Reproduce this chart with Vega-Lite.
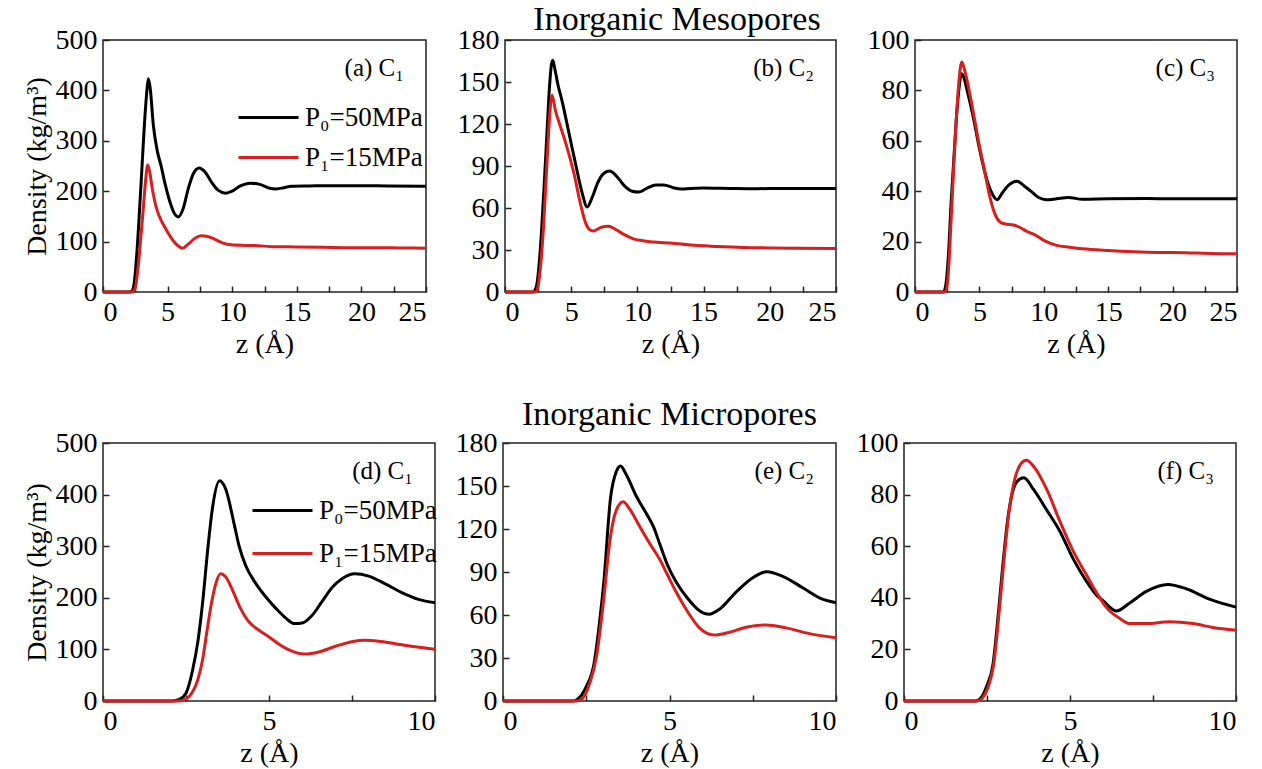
{
"$schema": "https://vega.github.io/schema/vega-lite/v6.json",
"background": "white",
"padding": {"left": 22, "top": 3, "right": 5, "bottom": 5},
"config": {
  "font": "Liberation Serif",
  "view": {"stroke": "#222", "strokeWidth": 1.5},
  "axis": {"grid": false, "domain": false, "tickSize": -6, "tickColor": "#222", "tickWidth": 1.5, "labelFontSize": 28, "labelColor": "black", "labelFont": "Liberation Serif", "titleFontSize": 28, "titleFontWeight": "normal", "titleColor": "black", "titleFont": "Liberation Serif", "labelPadding": 12},
  "title": {"font": "Liberation Serif", "fontWeight": "normal", "color": "black"},
  "legend": {"labelFont": "Liberation Serif"},
  "line": {"strokeWidth": 3, "interpolate": "monotone"}
},
"datasets": {
"a": [
{"s":"P₀=50MPa","z":0,"d":0},{"s":"P₀=50MPa","z":2.0,"d":0},{"s":"P₀=50MPa","z":2.2,"d":1},{"s":"P₀=50MPa","z":2.4,"d":15},{"s":"P₀=50MPa","z":2.6,"d":70},{"s":"P₀=50MPa","z":2.8,"d":150},{"s":"P₀=50MPa","z":3.0,"d":240},{"s":"P₀=50MPa","z":3.2,"d":330},{"s":"P₀=50MPa","z":3.4,"d":400},{"s":"P₀=50MPa","z":3.51,"d":423},{"s":"P₀=50MPa","z":3.65,"d":405},{"s":"P₀=50MPa","z":3.9,"d":330},{"s":"P₀=50MPa","z":4.2,"d":280},{"s":"P₀=50MPa","z":4.5,"d":250},{"s":"P₀=50MPa","z":4.8,"d":215},{"s":"P₀=50MPa","z":5.13,"d":183},{"s":"P₀=50MPa","z":5.5,"d":157},{"s":"P₀=50MPa","z":5.83,"d":149},{"s":"P₀=50MPa","z":6.2,"d":165},{"s":"P₀=50MPa","z":6.6,"d":205},{"s":"P₀=50MPa","z":7.0,"d":235},{"s":"P₀=50MPa","z":7.45,"d":246},{"s":"P₀=50MPa","z":7.9,"d":238},{"s":"P₀=50MPa","z":8.4,"d":218},{"s":"P₀=50MPa","z":8.9,"d":202},{"s":"P₀=50MPa","z":9.5,"d":196},{"s":"P₀=50MPa","z":10.0,"d":200},{"s":"P₀=50MPa","z":10.6,"d":210},{"s":"P₀=50MPa","z":11.4,"d":216},{"s":"P₀=50MPa","z":12.2,"d":213},{"s":"P₀=50MPa","z":12.9,"d":206},{"s":"P₀=50MPa","z":13.4,"d":204.5},{"s":"P₀=50MPa","z":14.0,"d":207},{"s":"P₀=50MPa","z":14.6,"d":210},{"s":"P₀=50MPa","z":16,"d":210.5},{"s":"P₀=50MPa","z":18,"d":211},{"s":"P₀=50MPa","z":20,"d":211},{"s":"P₀=50MPa","z":22,"d":210.5},{"s":"P₀=50MPa","z":25,"d":210},
{"s":"P₁=15MPa","z":0,"d":0},{"s":"P₁=15MPa","z":2.2,"d":0},{"s":"P₁=15MPa","z":2.35,"d":1},{"s":"P₁=15MPa","z":2.5,"d":8},{"s":"P₁=15MPa","z":2.7,"d":45},{"s":"P₁=15MPa","z":2.9,"d":100},{"s":"P₁=15MPa","z":3.1,"d":160},{"s":"P₁=15MPa","z":3.3,"d":222},{"s":"P₁=15MPa","z":3.46,"d":252},{"s":"P₁=15MPa","z":3.6,"d":240},{"s":"P₁=15MPa","z":3.85,"d":200},{"s":"P₁=15MPa","z":4.1,"d":170},{"s":"P₁=15MPa","z":4.36,"d":150},{"s":"P₁=15MPa","z":4.8,"d":128},{"s":"P₁=15MPa","z":5.26,"d":108},{"s":"P₁=15MPa","z":5.7,"d":94},{"s":"P₁=15MPa","z":6.17,"d":87},{"s":"P₁=15MPa","z":6.6,"d":95},{"s":"P₁=15MPa","z":7.1,"d":106},{"s":"P₁=15MPa","z":7.58,"d":111.5},{"s":"P₁=15MPa","z":8.1,"d":110},{"s":"P₁=15MPa","z":8.7,"d":104},{"s":"P₁=15MPa","z":9.3,"d":97},{"s":"P₁=15MPa","z":9.9,"d":93.6},{"s":"P₁=15MPa","z":11,"d":92.5},{"s":"P₁=15MPa","z":12,"d":92},{"s":"P₁=15MPa","z":13,"d":90},{"s":"P₁=15MPa","z":15,"d":89.5},{"s":"P₁=15MPa","z":17,"d":89},{"s":"P₁=15MPa","z":19,"d":88},{"s":"P₁=15MPa","z":21,"d":88},{"s":"P₁=15MPa","z":23,"d":87.5},{"s":"P₁=15MPa","z":25,"d":87}
],
"b": [
{"s":"P₀=50MPa","z":0,"d":0},{"s":"P₀=50MPa","z":2.1,"d":0},{"s":"P₀=50MPa","z":2.25,"d":1},{"s":"P₀=50MPa","z":2.45,"d":8},{"s":"P₀=50MPa","z":2.7,"d":35},{"s":"P₀=50MPa","z":2.95,"d":75},{"s":"P₀=50MPa","z":3.15,"d":110},{"s":"P₀=50MPa","z":3.35,"d":145},{"s":"P₀=50MPa","z":3.5,"d":162},{"s":"P₀=50MPa","z":3.61,"d":165.5},{"s":"P₀=50MPa","z":3.75,"d":160},{"s":"P₀=50MPa","z":4.0,"d":148},{"s":"P₀=50MPa","z":4.32,"d":136},{"s":"P₀=50MPa","z":4.82,"d":114},{"s":"P₀=50MPa","z":5.32,"d":92},{"s":"P₀=50MPa","z":5.82,"d":71},{"s":"P₀=50MPa","z":6.2,"d":60.7},{"s":"P₀=50MPa","z":6.6,"d":68},{"s":"P₀=50MPa","z":7.0,"d":78},{"s":"P₀=50MPa","z":7.5,"d":85},{"s":"P₀=50MPa","z":7.9,"d":86.4},{"s":"P₀=50MPa","z":8.4,"d":83},{"s":"P₀=50MPa","z":9.0,"d":76},{"s":"P₀=50MPa","z":9.6,"d":72},{"s":"P₀=50MPa","z":10.1,"d":71.4},{"s":"P₀=50MPa","z":10.7,"d":74},{"s":"P₀=50MPa","z":11.4,"d":76.5},{"s":"P₀=50MPa","z":12,"d":76.5},{"s":"P₀=50MPa","z":12.7,"d":74.5},{"s":"P₀=50MPa","z":13.3,"d":73.5},{"s":"P₀=50MPa","z":14,"d":74},{"s":"P₀=50MPa","z":15,"d":74.3},{"s":"P₀=50MPa","z":17,"d":74},{"s":"P₀=50MPa","z":19,"d":73.8},{"s":"P₀=50MPa","z":21,"d":74},{"s":"P₀=50MPa","z":23,"d":74},{"s":"P₀=50MPa","z":25,"d":74},
{"s":"P₁=15MPa","z":0,"d":0},{"s":"P₁=15MPa","z":2.3,"d":0},{"s":"P₁=15MPa","z":2.45,"d":2},{"s":"P₁=15MPa","z":2.65,"d":15},{"s":"P₁=15MPa","z":2.9,"d":45},{"s":"P₁=15MPa","z":3.1,"d":80},{"s":"P₁=15MPa","z":3.3,"d":115},{"s":"P₁=15MPa","z":3.45,"d":135},{"s":"P₁=15MPa","z":3.56,"d":140.5},{"s":"P₁=15MPa","z":3.8,"d":130},{"s":"P₁=15MPa","z":4.19,"d":118},{"s":"P₁=15MPa","z":4.6,"d":106},{"s":"P₁=15MPa","z":5.2,"d":85},{"s":"P₁=15MPa","z":5.7,"d":63},{"s":"P₁=15MPa","z":6.1,"d":49},{"s":"P₁=15MPa","z":6.4,"d":44.5},{"s":"P₁=15MPa","z":6.7,"d":43.6},{"s":"P₁=15MPa","z":7.1,"d":45.5},{"s":"P₁=15MPa","z":7.5,"d":46.8},{"s":"P₁=15MPa","z":7.83,"d":47},{"s":"P₁=15MPa","z":8.3,"d":45},{"s":"P₁=15MPa","z":8.9,"d":41.5},{"s":"P₁=15MPa","z":9.7,"d":38},{"s":"P₁=15MPa","z":10.5,"d":36.5},{"s":"P₁=15MPa","z":11.5,"d":35.5},{"s":"P₁=15MPa","z":12.5,"d":35},{"s":"P₁=15MPa","z":14,"d":33.5},{"s":"P₁=15MPa","z":16,"d":32.5},{"s":"P₁=15MPa","z":18,"d":31.8},{"s":"P₁=15MPa","z":20,"d":31.5},{"s":"P₁=15MPa","z":22,"d":31.2},{"s":"P₁=15MPa","z":25,"d":31}
],
"c": [
{"s":"P₀=50MPa","z":0,"d":0},{"s":"P₀=50MPa","z":2.2,"d":0},{"s":"P₀=50MPa","z":2.4,"d":3},{"s":"P₀=50MPa","z":2.6,"d":15},{"s":"P₀=50MPa","z":2.8,"d":35},{"s":"P₀=50MPa","z":3.03,"d":54},{"s":"P₀=50MPa","z":3.2,"d":68},{"s":"P₀=50MPa","z":3.4,"d":80},{"s":"P₀=50MPa","z":3.6,"d":86.6},{"s":"P₀=50MPa","z":3.8,"d":85},{"s":"P₀=50MPa","z":4.0,"d":81},{"s":"P₀=50MPa","z":4.5,"d":70},{"s":"P₀=50MPa","z":5.0,"d":57},{"s":"P₀=50MPa","z":5.5,"d":46},{"s":"P₀=50MPa","z":5.9,"d":40},{"s":"P₀=50MPa","z":6.38,"d":36.6},{"s":"P₀=50MPa","z":6.8,"d":39.5},{"s":"P₀=50MPa","z":7.3,"d":42.5},{"s":"P₀=50MPa","z":7.92,"d":43.9},{"s":"P₀=50MPa","z":8.5,"d":42},{"s":"P₀=50MPa","z":9.0,"d":40},{"s":"P₀=50MPa","z":9.6,"d":37.5},{"s":"P₀=50MPa","z":10.2,"d":36.6},{"s":"P₀=50MPa","z":11,"d":37},{"s":"P₀=50MPa","z":11.9,"d":37.5},{"s":"P₀=50MPa","z":13,"d":36.8},{"s":"P₀=50MPa","z":15,"d":37},{"s":"P₀=50MPa","z":18,"d":37.1},{"s":"P₀=50MPa","z":20,"d":37},{"s":"P₀=50MPa","z":25,"d":37},
{"s":"P₁=15MPa","z":0,"d":0},{"s":"P₁=15MPa","z":2.35,"d":0},{"s":"P₁=15MPa","z":2.55,"d":5},{"s":"P₁=15MPa","z":2.8,"d":28},{"s":"P₁=15MPa","z":3.03,"d":52},{"s":"P₁=15MPa","z":3.2,"d":68},{"s":"P₁=15MPa","z":3.4,"d":83},{"s":"P₁=15MPa","z":3.63,"d":91.3},{"s":"P₁=15MPa","z":3.8,"d":89},{"s":"P₁=15MPa","z":4.0,"d":85},{"s":"P₁=15MPa","z":4.5,"d":72},{"s":"P₁=15MPa","z":5.0,"d":58},{"s":"P₁=15MPa","z":5.35,"d":49.6},{"s":"P₁=15MPa","z":5.8,"d":38},{"s":"P₁=15MPa","z":6.2,"d":31},{"s":"P₁=15MPa","z":6.6,"d":27.8},{"s":"P₁=15MPa","z":7.0,"d":27},{"s":"P₁=15MPa","z":7.65,"d":26.6},{"s":"P₁=15MPa","z":8.2,"d":25.5},{"s":"P₁=15MPa","z":8.7,"d":24},{"s":"P₁=15MPa","z":9.2,"d":23},{"s":"P₁=15MPa","z":10,"d":20.5},{"s":"P₁=15MPa","z":11,"d":18.5},{"s":"P₁=15MPa","z":12,"d":17.8},{"s":"P₁=15MPa","z":13,"d":17.2},{"s":"P₁=15MPa","z":15,"d":16.5},{"s":"P₁=15MPa","z":17,"d":16},{"s":"P₁=15MPa","z":19,"d":15.7},{"s":"P₁=15MPa","z":21,"d":15.6},{"s":"P₁=15MPa","z":23,"d":15.3},{"s":"P₁=15MPa","z":25,"d":15.2}
],
"d": [
{"s":"P₀=50MPa","z":0,"d":0},{"s":"P₀=50MPa","z":2.1,"d":0},{"s":"P₀=50MPa","z":2.3,"d":3},{"s":"P₀=50MPa","z":2.5,"d":15},{"s":"P₀=50MPa","z":2.7,"d":60},{"s":"P₀=50MPa","z":2.86,"d":116},{"s":"P₀=50MPa","z":3.0,"d":190},{"s":"P₀=50MPa","z":3.16,"d":297},{"s":"P₀=50MPa","z":3.3,"d":375},{"s":"P₀=50MPa","z":3.51,"d":426.6},{"s":"P₀=50MPa","z":3.7,"d":410},{"s":"P₀=50MPa","z":3.96,"d":340},{"s":"P₀=50MPa","z":4.1,"d":300},{"s":"P₀=50MPa","z":4.3,"d":262},{"s":"P₀=50MPa","z":4.6,"d":228},{"s":"P₀=50MPa","z":4.9,"d":202},{"s":"P₀=50MPa","z":5.2,"d":180},{"s":"P₀=50MPa","z":5.5,"d":161},{"s":"P₀=50MPa","z":5.77,"d":150},{"s":"P₀=50MPa","z":6.0,"d":151},{"s":"P₀=50MPa","z":6.3,"d":166},{"s":"P₀=50MPa","z":6.6,"d":193},{"s":"P₀=50MPa","z":6.9,"d":220},{"s":"P₀=50MPa","z":7.2,"d":237},{"s":"P₀=50MPa","z":7.58,"d":246.5},{"s":"P₀=50MPa","z":8.0,"d":242},{"s":"P₀=50MPa","z":8.5,"d":227},{"s":"P₀=50MPa","z":9.0,"d":210},{"s":"P₀=50MPa","z":9.5,"d":197},{"s":"P₀=50MPa","z":10,"d":190.5},
{"s":"P₁=15MPa","z":0,"d":0},{"s":"P₁=15MPa","z":2.3,"d":0},{"s":"P₁=15MPa","z":2.5,"d":4},{"s":"P₁=15MPa","z":2.7,"d":18},{"s":"P₁=15MPa","z":2.85,"d":40},{"s":"P₁=15MPa","z":3.0,"d":80},{"s":"P₁=15MPa","z":3.13,"d":135},{"s":"P₁=15MPa","z":3.26,"d":187},{"s":"P₁=15MPa","z":3.4,"d":228},{"s":"P₁=15MPa","z":3.54,"d":246.5},{"s":"P₁=15MPa","z":3.7,"d":240},{"s":"P₁=15MPa","z":3.9,"d":215},{"s":"P₁=15MPa","z":4.1,"d":185},{"s":"P₁=15MPa","z":4.4,"d":153},{"s":"P₁=15MPa","z":4.7,"d":137},{"s":"P₁=15MPa","z":5.0,"d":124},{"s":"P₁=15MPa","z":5.3,"d":110},{"s":"P₁=15MPa","z":5.6,"d":99},{"s":"P₁=15MPa","z":6.07,"d":91},{"s":"P₁=15MPa","z":6.5,"d":95},{"s":"P₁=15MPa","z":7.0,"d":106},{"s":"P₁=15MPa","z":7.5,"d":115},{"s":"P₁=15MPa","z":7.88,"d":117.8},{"s":"P₁=15MPa","z":8.3,"d":116},{"s":"P₁=15MPa","z":8.8,"d":111},{"s":"P₁=15MPa","z":9.4,"d":105},{"s":"P₁=15MPa","z":10,"d":100.4}
],
"e": [
{"s":"P₀=50MPa","z":0,"d":0},{"s":"P₀=50MPa","z":2.1,"d":0},{"s":"P₀=50MPa","z":2.23,"d":1},{"s":"P₀=50MPa","z":2.5,"d":10},{"s":"P₀=50MPa","z":2.73,"d":25.6},{"s":"P₀=50MPa","z":2.9,"d":55},{"s":"P₀=50MPa","z":3.03,"d":83.7},{"s":"P₀=50MPa","z":3.23,"d":141.9},{"s":"P₀=50MPa","z":3.4,"d":160},{"s":"P₀=50MPa","z":3.53,"d":164},{"s":"P₀=50MPa","z":3.7,"d":158},{"s":"P₀=50MPa","z":4.0,"d":143},{"s":"P₀=50MPa","z":4.3,"d":131},{"s":"P₀=50MPa","z":4.53,"d":121},{"s":"P₀=50MPa","z":4.7,"d":110},{"s":"P₀=50MPa","z":4.93,"d":95.4},{"s":"P₀=50MPa","z":5.2,"d":83},{"s":"P₀=50MPa","z":5.53,"d":72},{"s":"P₀=50MPa","z":5.9,"d":63},{"s":"P₀=50MPa","z":6.19,"d":60.5},{"s":"P₀=50MPa","z":6.5,"d":64},{"s":"P₀=50MPa","z":7.0,"d":76},{"s":"P₀=50MPa","z":7.5,"d":86},{"s":"P₀=50MPa","z":7.92,"d":90.2},{"s":"P₀=50MPa","z":8.4,"d":87},{"s":"P₀=50MPa","z":9.0,"d":79},{"s":"P₀=50MPa","z":9.5,"d":72},{"s":"P₀=50MPa","z":10,"d":68.6},
{"s":"P₁=15MPa","z":0,"d":0},{"s":"P₁=15MPa","z":2.2,"d":0},{"s":"P₁=15MPa","z":2.35,"d":1},{"s":"P₁=15MPa","z":2.6,"d":12},{"s":"P₁=15MPa","z":2.8,"d":30},{"s":"P₁=15MPa","z":3.03,"d":72},{"s":"P₁=15MPa","z":3.2,"d":110},{"s":"P₁=15MPa","z":3.4,"d":133},{"s":"P₁=15MPa","z":3.61,"d":139},{"s":"P₁=15MPa","z":3.8,"d":134},{"s":"P₁=15MPa","z":4.1,"d":122},{"s":"P₁=15MPa","z":4.43,"d":109},{"s":"P₁=15MPa","z":4.7,"d":99},{"s":"P₁=15MPa","z":4.93,"d":88.4},{"s":"P₁=15MPa","z":5.2,"d":76},{"s":"P₁=15MPa","z":5.53,"d":62.8},{"s":"P₁=15MPa","z":5.9,"d":51},{"s":"P₁=15MPa","z":6.34,"d":46},{"s":"P₁=15MPa","z":6.8,"d":48},{"s":"P₁=15MPa","z":7.3,"d":51.5},{"s":"P₁=15MPa","z":7.89,"d":53},{"s":"P₁=15MPa","z":8.5,"d":51},{"s":"P₁=15MPa","z":9.2,"d":47},{"s":"P₁=15MPa","z":10,"d":44.2}
],
"f": [
{"s":"P₀=50MPa","z":0,"d":0},{"s":"P₀=50MPa","z":2.15,"d":0},{"s":"P₀=50MPa","z":2.3,"d":1},{"s":"P₀=50MPa","z":2.5,"d":6},{"s":"P₀=50MPa","z":2.68,"d":14.2},{"s":"P₀=50MPa","z":2.85,"d":35},{"s":"P₀=50MPa","z":2.98,"d":53},{"s":"P₀=50MPa","z":3.1,"d":68},{"s":"P₀=50MPa","z":3.23,"d":78.8},{"s":"P₀=50MPa","z":3.4,"d":85},{"s":"P₀=50MPa","z":3.61,"d":86.5},{"s":"P₀=50MPa","z":3.9,"d":82},{"s":"P₀=50MPa","z":4.3,"d":74},{"s":"P₀=50MPa","z":4.69,"d":65.9},{"s":"P₀=50MPa","z":5.1,"d":55},{"s":"P₀=50MPa","z":5.49,"d":46.5},{"s":"P₀=50MPa","z":5.8,"d":41},{"s":"P₀=50MPa","z":6.0,"d":38.8},{"s":"P₀=50MPa","z":6.4,"d":34.9},{"s":"P₀=50MPa","z":6.8,"d":38},{"s":"P₀=50MPa","z":7.3,"d":42.5},{"s":"P₀=50MPa","z":7.95,"d":45.2},{"s":"P₀=50MPa","z":8.5,"d":43.5},{"s":"P₀=50MPa","z":9.2,"d":39.5},{"s":"P₀=50MPa","z":10,"d":36.4},
{"s":"P₁=15MPa","z":0,"d":0},{"s":"P₁=15MPa","z":2.2,"d":0},{"s":"P₁=15MPa","z":2.35,"d":1},{"s":"P₁=15MPa","z":2.55,"d":6},{"s":"P₁=15MPa","z":2.7,"d":14},{"s":"P₁=15MPa","z":2.87,"d":35},{"s":"P₁=15MPa","z":3.0,"d":53},{"s":"P₁=15MPa","z":3.15,"d":72},{"s":"P₁=15MPa","z":3.3,"d":84},{"s":"P₁=15MPa","z":3.5,"d":91.5},{"s":"P₁=15MPa","z":3.69,"d":93.3},{"s":"P₁=15MPa","z":3.9,"d":91},{"s":"P₁=15MPa","z":4.3,"d":82},{"s":"P₁=15MPa","z":4.69,"d":69.8},{"s":"P₁=15MPa","z":5.1,"d":58},{"s":"P₁=15MPa","z":5.49,"d":49},{"s":"P₁=15MPa","z":5.8,"d":42},{"s":"P₁=15MPa","z":6.1,"d":36.2},{"s":"P₁=15MPa","z":6.5,"d":32},{"s":"P₁=15MPa","z":6.8,"d":30},{"s":"P₁=15MPa","z":7.3,"d":30},{"s":"P₁=15MPa","z":8.0,"d":30.7},{"s":"P₁=15MPa","z":8.7,"d":30},{"s":"P₁=15MPa","z":9.3,"d":28.5},{"s":"P₁=15MPa","z":10,"d":27.4}
]
},
"vconcat": [
{
  "title": {"text": "Inorganic Mesopores", "fontSize": 34, "anchor": "middle", "offset": -12, "dx": 44},
  "bounds": "flush",
  "spacing": 79,
  "resolve": {"scale": {"color": "independent"}},
  "hconcat": [
    {"width": 323, "height": 252, "data": {"name": "a"},
     "title": {"text": "(a) C₁", "anchor": "end", "frame": "group", "offset": -75, "dx": -22, "fontSize": 25, "baseline": "alphabetic"},
     "mark": "line",
     "encoding": {
       "x": {"field": "z", "type": "quantitative", "scale": {"domain": [0, 25], "nice": false}, "axis": {"values": [0, 2.5, 5, 7.5, 10, 12.5, 15, 17.5, 20, 22.5, 25], "labelExpr": "datum.value % 5 === 0 ? datum.label : ''", "title": "z (Å)"}},
       "y": {"field": "d", "type": "quantitative", "scale": {"domain": [0, 500], "nice": false}, "axis": {"values": [0, 100, 200, 300, 400, 500], "title": "Density (kg/m³)"}},
       "color": {"field": "s", "type": "nominal", "scale": {"domain": ["P₀=50MPa", "P₁=15MPa"], "range": ["#000000", "#d81e1e"]},
         "legend": {"orient": "none", "legendX": 149, "legendY": 61, "title": null, "symbolType": "M-2,0H2", "symbolSize": 900, "symbolStrokeWidth": 3, "labelOffset": 20, "labelFontSize": 27, "labelFont": "Liberation Serif", "labelColor": "black", "rowPadding": 10}}
     }},
    {"width": 331, "height": 252, "data": {"name": "b"},
     "title": {"text": "(b) C₂", "anchor": "end", "frame": "group", "offset": -75, "dx": -22, "fontSize": 25, "baseline": "alphabetic"},
     "mark": "line",
     "encoding": {
       "x": {"field": "z", "type": "quantitative", "scale": {"domain": [0, 25], "nice": false}, "axis": {"values": [0, 2.5, 5, 7.5, 10, 12.5, 15, 17.5, 20, 22.5, 25], "labelExpr": "datum.value % 5 === 0 ? datum.label : ''", "title": "z (Å)"}},
       "y": {"field": "d", "type": "quantitative", "scale": {"domain": [0, 180], "nice": false}, "axis": {"values": [0, 30, 60, 90, 120, 150, 180], "title": null}},
       "color": {"field": "s", "type": "nominal", "scale": {"domain": ["P₀=50MPa", "P₁=15MPa"], "range": ["#000000", "#d81e1e"]}, "legend": null}
     }},
    {"width": 322, "height": 252, "data": {"name": "c"},
     "title": {"text": "(c) C₃", "anchor": "end", "frame": "group", "offset": -75, "dx": -22, "fontSize": 25, "baseline": "alphabetic"},
     "mark": "line",
     "encoding": {
       "x": {"field": "z", "type": "quantitative", "scale": {"domain": [0, 25], "nice": false}, "axis": {"values": [0, 2.5, 5, 7.5, 10, 12.5, 15, 17.5, 20, 22.5, 25], "labelExpr": "datum.value % 5 === 0 ? datum.label : ''", "title": "z (Å)"}},
       "y": {"field": "d", "type": "quantitative", "scale": {"domain": [0, 100], "nice": false}, "axis": {"values": [0, 20, 40, 60, 80, 100], "title": null}},
       "color": {"field": "s", "type": "nominal", "scale": {"domain": ["P₀=50MPa", "P₁=15MPa"], "range": ["#000000", "#d81e1e"]}, "legend": null}
     }}
  ]
},
{
  "title": {"text": "Inorganic Micropores", "fontSize": 34, "anchor": "middle", "offset": -12, "dx": 37, "dy": -8},
  "bounds": "flush",
  "spacing": 68,
  "resolve": {"scale": {"color": "independent"}},
  "hconcat": [
    {"width": 332, "height": 258, "data": {"name": "d"},
     "title": {"text": "(d) C₁", "anchor": "end", "frame": "group", "offset": -75, "dx": -22, "fontSize": 25, "baseline": "alphabetic"},
     "mark": "line",
     "encoding": {
       "x": {"field": "z", "type": "quantitative", "scale": {"domain": [0, 10], "nice": false}, "axis": {"values": [0, 2.5, 5, 7.5, 10], "labelExpr": "datum.value % 5 === 0 ? datum.label : ''", "title": "z (Å)"}},
       "y": {"field": "d", "type": "quantitative", "scale": {"domain": [0, 500], "nice": false}, "axis": {"values": [0, 100, 200, 300, 400, 500], "title": "Density (kg/m³)"}},
       "color": {"field": "s", "type": "nominal", "scale": {"domain": ["P₀=50MPa", "P₁=15MPa"], "range": ["#000000", "#d81e1e"]},
         "legend": {"orient": "none", "legendX": 163, "legendY": 51, "title": null, "symbolType": "M-2,0H2", "symbolSize": 900, "symbolStrokeWidth": 3, "labelOffset": 20, "labelFontSize": 27, "labelFont": "Liberation Serif", "labelColor": "black", "rowPadding": 13}}
     }},
    {"width": 333, "height": 258, "data": {"name": "e"},
     "title": {"text": "(e) C₂", "anchor": "end", "frame": "group", "offset": -75, "dx": -22, "fontSize": 25, "baseline": "alphabetic"},
     "mark": "line",
     "encoding": {
       "x": {"field": "z", "type": "quantitative", "scale": {"domain": [0, 10], "nice": false}, "axis": {"values": [0, 2.5, 5, 7.5, 10], "labelExpr": "datum.value % 5 === 0 ? datum.label : ''", "title": "z (Å)"}},
       "y": {"field": "d", "type": "quantitative", "scale": {"domain": [0, 180], "nice": false}, "axis": {"values": [0, 30, 60, 90, 120, 150, 180], "title": null}},
       "color": {"field": "s", "type": "nominal", "scale": {"domain": ["P₀=50MPa", "P₁=15MPa"], "range": ["#000000", "#d81e1e"]}, "legend": null}
     }},
    {"width": 332, "height": 258, "data": {"name": "f"},
     "title": {"text": "(f) C₃", "anchor": "end", "frame": "group", "offset": -75, "dx": -22, "fontSize": 25, "baseline": "alphabetic"},
     "mark": "line",
     "encoding": {
       "x": {"field": "z", "type": "quantitative", "scale": {"domain": [0, 10], "nice": false}, "axis": {"values": [0, 2.5, 5, 7.5, 10], "labelExpr": "datum.value % 5 === 0 ? datum.label : ''", "title": "z (Å)"}},
       "y": {"field": "d", "type": "quantitative", "scale": {"domain": [0, 100], "nice": false}, "axis": {"values": [0, 20, 40, 60, 80, 100], "title": null}},
       "color": {"field": "s", "type": "nominal", "scale": {"domain": ["P₀=50MPa", "P₁=15MPa"], "range": ["#000000", "#d81e1e"]}, "legend": null}
     }}
  ]
}
],
"spacing": 39,
"resolve": {"scale": {"color": "independent"}}
}
